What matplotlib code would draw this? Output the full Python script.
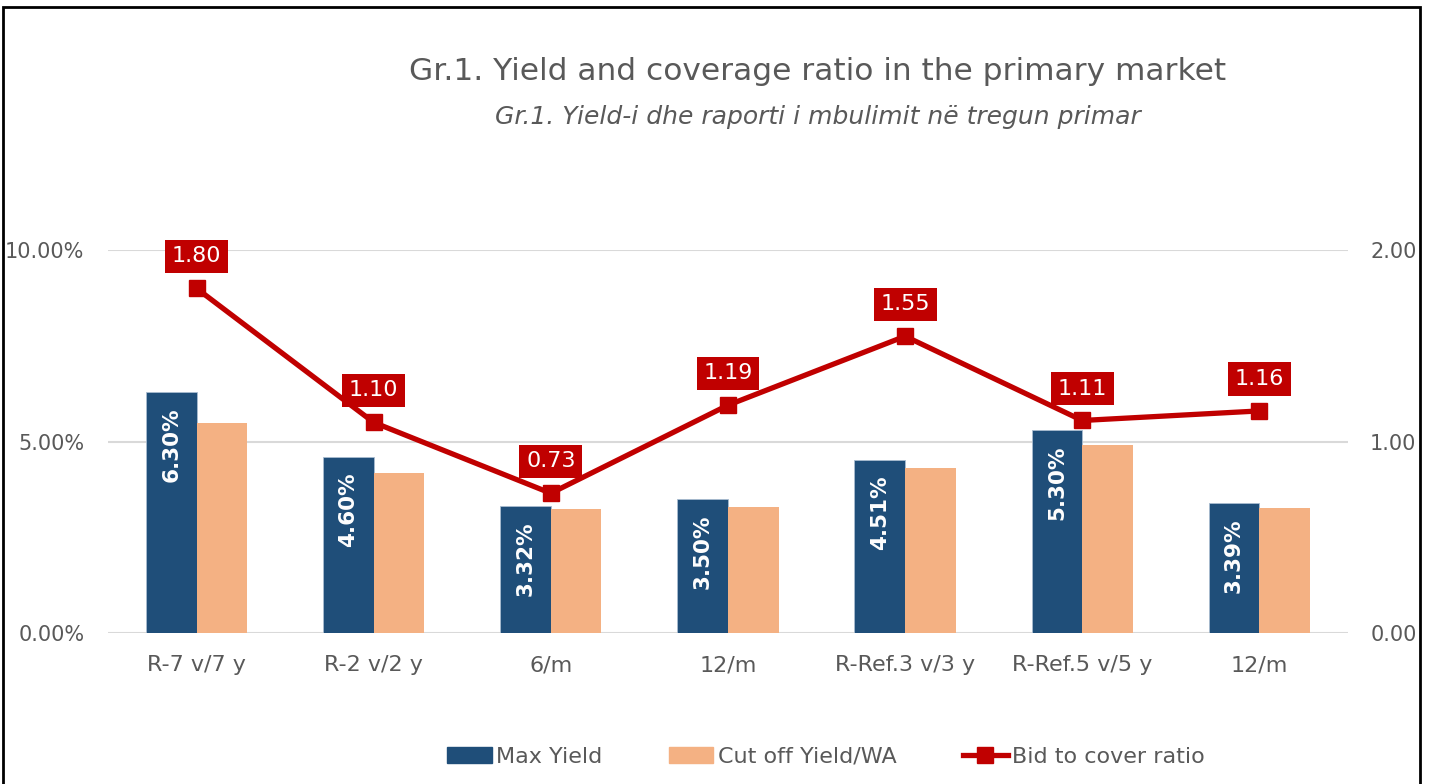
import matplotlib as mpl
import matplotlib.pyplot as plt
import numpy as np
from matplotlib.lines import Line2D
from matplotlib.patches import Patch, Rectangle

NAVY = "#1F4E79"
PEACH = "#F4B183"
RED = "#C00000"
INK = "#595959"
GRID = "#D9D9D9"

categories = ["R-7 v/7 y", "R-2 v/2 y", "6/m", "12/m", "R-Ref.3 v/3 y", "R-Ref.5 v/5 y", "12/m"]
max_yield = [6.30, 4.60, 3.32, 3.50, 4.51, 5.30, 3.39]
cut_off = [5.48, 4.17, 3.23, 3.30, 4.31, 4.92, 3.27]
bid_cover = [1.80, 1.10, 0.73, 1.19, 1.55, 1.11, 1.16]

mpl.rcParams.update({
    "font.family": ["DejaVu Sans"],
    "text.color": INK,
    "xtick.color": INK,
    "ytick.color": INK,
})

fig = plt.figure(figsize=(14.34, 7.84), dpi=100)
ax = fig.add_axes([0.0753, 0.1926, 0.8647, 0.4884])
ax2 = ax.twinx()

x = np.arange(len(categories))
w = 0.286
ax.bar(x - w / 2, max_yield, w, color=NAVY, edgecolor="#A9BCD0", linewidth=0.6, zorder=2)
ax.bar(x + w / 2, cut_off, w, color=PEACH, zorder=2)
for xi, v in zip(x, max_yield):
    ax.annotate(f"{v:.2f}%", (xi - w / 2, v), xytext=(0, -11), textcoords="offset points",
                rotation=90, ha="center", va="top", color="white", fontsize=15.5,
                fontweight="bold", zorder=3)

ax.set_xlim(-0.5, len(categories) - 0.5)
ax.set_ylim(0, 10)
ax.set_yticks([0, 5, 10])
ax.set_yticklabels([f"{t:.2f}%" for t in (0, 5, 10)])
ax.set_xticks(x)
ax.set_xticklabels(categories)
ax.grid(axis="y", color=GRID, lw=1.5, zorder=0)
ax.set_axisbelow(True)
for s in ax.spines.values():
    s.set_visible(False)
ax.tick_params(axis="x", length=0, labelsize=16, pad=16)
ax.tick_params(axis="y", length=0, labelsize=15, pad=17)

ax2.plot(x, bid_cover, color=RED, lw=3.8, marker="s", markersize=11, zorder=4)
for xi, v in zip(x, bid_cover):
    ax2.annotate(f"{v:.2f}", (xi, v), xytext=(0, 23), textcoords="offset points",
                 ha="center", va="center", color="white", fontsize=16,
                 bbox=dict(boxstyle="square,pad=0.3", fc=RED, ec="none"),
                 annotation_clip=False, zorder=5)
ax2.set_ylim(0, 2)
ax2.set_yticks([0, 1, 2])
ax2.set_yticklabels([f"{t:.2f}" for t in (0, 1, 2)])
for s in ax2.spines.values():
    s.set_visible(False)
ax2.tick_params(length=0, labelsize=15, pad=16)

fig.text(818 / 1434, 1 - 72 / 784, "Gr.1. Yield and coverage ratio in the primary market",
         ha="center", va="center", fontsize=22.5, color=INK)
fig.text(818 / 1434, 1 - 117 / 784, "Gr.1. Yield-i dhe raporti i mbulimit në tregun primar",
         ha="center", va="center", fontsize=18, style="italic", color=INK)

handles = [
    Patch(color=NAVY, label="Max Yield"),
    Patch(color=PEACH, label="Cut off Yield/WA"),
    Line2D([], [], color=RED, lw=3.8, marker="s", markersize=11, label="Bid to cover ratio"),
]
fig.legend(handles=handles, loc="center", bbox_to_anchor=(826 / 1434, 1 - 757 / 784), ncol=3,
           frameon=False, fontsize=16, handlelength=2.0, handletextpad=0.2, columnspacing=3.0,
           labelcolor=INK)

fig.patches.append(Rectangle((3 / 1434, -0.05), 1417 / 1434, 1.05 - 7 / 784, transform=fig.transFigure,
                             fill=False, ec="black", lw=2))

fig.savefig("out.png", dpi=100)
